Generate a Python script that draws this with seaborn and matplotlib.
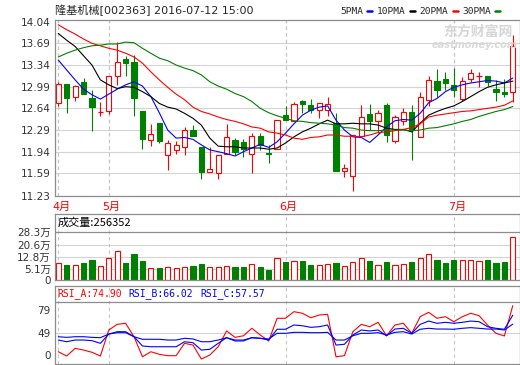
import matplotlib
matplotlib.use("Agg")
import matplotlib.pyplot as plt
import numpy as np
import pandas as pd
import seaborn as sns

TITLE = "隆基机械[002363] 2016-07-12 15:00"
MONTH_LABELS = ["4月", "5月", "6月", "7月"]
MONTH_START = [0, 6, 27, 47]   # index of the first trading day of each month

OPEN = [12.72, 13.03, 12.82, 13.07, 12.80, 12.58, 12.59, 13.16, 13.43, 13.39,
        12.59, 12.13, 12.41, 11.89, 11.96, 12.02, 12.29, 12.01, 11.61, 11.59,
        11.91, 12.13, 12.10, 11.91, 12.19, 11.92, 11.98, 12.53, 12.44, 12.76,
        12.69, 12.62, 12.61, 12.40, 11.63, 11.55, 12.19, 12.55, 12.43, 12.69,
        12.12, 12.44, 12.58, 12.17, 12.78, 13.08, 13.11, 13.01, 12.79, 13.12,
        13.16, 13.16, 12.96, 12.91, 12.90]
HIGH = [13.07, 13.03, 13.02, 13.13, 12.94, 12.75, 13.16, 13.71, 13.49, 13.50,
        12.60, 12.39, 12.41, 12.13, 12.12, 12.34, 12.37, 12.01, 12.01, 11.89,
        12.39, 12.16, 12.14, 12.24, 12.24, 12.05, 12.46, 12.68, 12.75, 12.78,
        12.79, 12.73, 12.82, 12.56, 11.74, 12.21, 12.70, 12.71, 12.61, 12.73,
        12.53, 12.64, 12.69, 12.91, 13.16, 13.27, 13.22, 13.29, 13.15, 13.27,
        13.23, 13.16, 13.10, 13.11, 13.82]
LOW = [12.68, 12.57, 12.76, 12.87, 12.28, 12.51, 12.55, 13.01, 13.17, 12.52,
       11.99, 12.04, 12.08, 11.64, 11.90, 11.89, 12.20, 11.50, 11.61, 11.50,
       11.91, 11.89, 11.86, 11.60, 11.96, 11.76, 11.98, 12.45, 12.44, 12.56,
       12.56, 12.49, 12.51, 11.63, 11.53, 11.31, 12.19, 12.29, 12.24, 12.10,
       12.08, 12.37, 11.80, 12.17, 12.68, 12.83, 12.94, 12.83, 12.76, 13.07,
       12.98, 13.00, 12.76, 12.83, 12.75]
CLOSE = [13.03, 12.81, 13.00, 12.88, 12.67, 12.58, 13.16, 13.39, 13.38, 12.81,
         12.14, 12.22, 12.12, 12.08, 12.05, 12.29, 12.20, 11.62, 11.66, 11.89,
         12.17, 11.93, 11.98, 12.19, 12.05, 11.90, 12.46, 12.46, 12.71, 12.71,
         12.61, 12.72, 12.71, 11.63, 11.67, 12.21, 12.50, 12.43, 12.57, 12.21,
         12.50, 12.58, 12.30, 12.83, 13.10, 12.93, 13.05, 12.94, 13.08, 13.21,
         13.16, 13.07, 12.91, 12.87, 13.64]

MA5 = [13.42, 13.26, 13.10, 12.95, 12.86, 12.79, 12.87, 12.95, 13.02, 13.07,
       13.00, 12.83, 12.57, 12.29, 12.16, 12.17, 12.14, 12.05, 11.97, 11.94,
       11.91, 11.87, 11.94, 12.00, 12.06, 12.01, 12.10, 12.24, 12.39, 12.53,
       12.61, 12.66, 12.68, 12.45, 12.29, 12.18, 12.17, 12.09, 12.21, 12.34,
       12.44, 12.46, 12.45, 12.56, 12.73, 12.80, 12.91, 12.98, 13.02, 13.05,
       13.07, 13.09, 13.08, 13.05, 13.13]
MA10 = [13.85, 13.74, 13.64, 13.49, 13.34, 13.10, 13.02, 12.96, 12.99, 12.98,
        12.91, 12.83, 12.72, 12.66, 12.63, 12.56, 12.48, 12.37, 12.16, 12.03,
        12.02, 12.02, 12.00, 12.00, 12.00, 11.98, 12.00, 12.08, 12.18, 12.26,
        12.32, 12.39, 12.45, 12.39, 12.39, 12.40, 12.39, 12.39, 12.37, 12.32,
        12.30, 12.30, 12.26, 12.40, 12.53, 12.59, 12.64, 12.68, 12.75, 12.83,
        12.91, 12.98, 13.02, 13.05, 13.08]
MA20 = [13.99, 13.91, 13.84, 13.76, 13.69, 13.65, 13.61, 13.58, 13.53, 13.47,
        13.37, 13.23, 13.10, 12.98, 12.87, 12.78, 12.66, 12.59, 12.55, 12.50,
        12.46, 12.43, 12.39, 12.34, 12.32, 12.26, 12.24, 12.21, 12.16, 12.14,
        12.17, 12.18, 12.21, 12.21, 12.19, 12.19, 12.18, 12.21, 12.25, 12.26,
        12.28, 12.30, 12.33, 12.39, 12.50, 12.53, 12.55, 12.57, 12.59, 12.60,
        12.62, 12.64, 12.66, 12.69, 12.76]
MA30 = [13.47, 13.53, 13.58, 13.62, 13.65, 13.66, 13.68, 13.68, 13.71, 13.70,
        13.61, 13.53, 13.45, 13.41, 13.34, 13.29, 13.25, 13.18, 13.07, 13.00,
        12.95, 12.88, 12.83, 12.75, 12.64, 12.57, 12.52, 12.48, 12.44, 12.43,
        12.41, 12.40, 12.39, 12.37, 12.33, 12.32, 12.29, 12.28, 12.28, 12.29,
        12.29, 12.29, 12.28, 12.29, 12.32, 12.33, 12.36, 12.39, 12.43, 12.46,
        12.51, 12.55, 12.59, 12.62, 12.67]

# volume in 万 (10k lots)
VOLUME = [8.9, 7.8, 7.8, 8.9, 10.9, 7.2, 12.0, 16.5, 8.9, 14.5,
          10.3, 5.7, 5.7, 6.7, 5.7, 6.4, 7.2, 8.2, 6.4, 6.4,
          7.4, 6.4, 6.4, 8.6, 6.4, 4.7, 12.0, 9.5, 10.3, 10.3,
          7.8, 7.8, 8.2, 8.9, 7.2, 9.5, 12.0, 10.3, 7.8, 9.7,
          7.8, 8.4, 9.7, 12.0, 14.5, 10.9, 8.9, 10.9, 10.9, 10.9,
          10.3, 10.9, 8.9, 9.7, 25.6]
VOLUME_LAST = "256352"

RSI_A = [31.7, 27.7, 34.9, 33.3, 31.2, 27.7, 52.1, 57.4, 58.4, 45.8,
         27.0, 31.7, 29.3, 28.0, 28.0, 39.6, 38.0, 24.9, 28.6, 36.4,
         51.2, 45.2, 46.7, 53.7, 47.4, 41.8, 63.1, 63.1, 69.3, 67.8,
         63.6, 66.2, 66.8, 27.0, 28.0, 50.5, 57.4, 55.2, 59.3, 46.7,
         56.8, 58.4, 49.0, 64.6, 68.7, 63.1, 64.6, 59.9, 64.6, 67.8,
         65.5, 56.8, 49.0, 46.5, 74.9]
RSI_B = [42.7, 41.1, 42.7, 42.7, 42.1, 39.6, 48.3, 50.5, 50.5, 45.8,
         37.1, 36.4, 36.4, 36.4, 36.4, 41.1, 40.2, 33.3, 34.0, 39.6,
         44.9, 41.8, 41.8, 44.9, 44.3, 42.7, 52.8, 52.8, 56.8, 56.1,
         54.6, 55.2, 56.8, 38.0, 38.7, 47.4, 52.1, 51.2, 52.1, 46.7,
         53.0, 53.7, 49.0, 57.4, 60.5, 58.4, 59.3, 58.4, 59.3, 60.5,
         59.9, 55.2, 53.7, 52.8, 66.0]
RSI_C = [45.8, 45.2, 45.8, 45.8, 45.2, 44.9, 48.3, 49.6, 49.6, 45.8,
         43.4, 43.4, 43.4, 42.7, 42.7, 44.3, 43.7, 41.1, 41.1, 42.7,
         44.9, 42.7, 42.7, 44.9, 44.3, 43.7, 49.0, 49.0, 49.9, 49.9,
         49.6, 49.6, 49.9, 42.7, 42.7, 46.7, 49.0, 49.0, 49.6, 47.4,
         49.9, 50.5, 48.3, 52.8, 53.7, 53.0, 53.0, 52.8, 53.7, 54.3,
         53.7, 53.0, 53.0, 52.1, 57.6]
RSI_HEAD = [("RSI_A:74.90", "#ff0000"), ("RSI_B:66.02", "#0000ff"), ("RSI_C:57.57", "#0000ff")]

PRICE_TICKS = [14.04, 13.69, 13.34, 12.99, 12.64, 12.29, 11.94, 11.59, 11.23]
VOL_TICKS = [5.1, 12.8, 20.6, 28.3]
VOL_TICK_LABELS = ["5.1万", "12.8万", "20.6万", "28.3万"]
RSI_TICKS = [71, 49, 28.6]
RSI_TICK_LABELS = ["79", "49", "0"]
MA_NAMES = ["5PMA", "10PMA", "20PMA", "30PMA"]
MA_COLORS = ["#0000ff", "#000000", "#ff0000", "#008000"]

UP = "#ff0000"
DOWN = "#008000"
FRAME = "#8c8c8c"
GRID = "#d4d4d4"
W, H = 520, 365


def box(l, t, r, b):
    return [l / W, 1 - b / H, (r - l) / W, (b - t) / H]


def ftext(fig, x, y, s, **kw):
    fig.text(x / W, 1 - y / H, s, **kw)


def style_axes(ax):
    for sp in ax.spines.values():
        sp.set_color(FRAME)
        sp.set_linewidth(0.9)
    ax.set_xticks([])
    ax.set_xlim(-0.39, 54.8)
    ax.tick_params(axis="y", length=0, pad=3, labelsize=7.5, labelcolor="#333333")
    for m in MONTH_START:
        ax.axvline(m, color="#c4c4c4", lw=0.8, ls=(0, (3, 3)), zorder=0)
    ax.set_xlabel("")
    ax.set_ylabel("")


def draw_candles(ax, df):
    w = 0.62
    for row in df.itertuples():
        up = row.close >= row.open
        lo, hi = min(row.open, row.close), max(row.open, row.close)
        if up:
            ax.vlines(row.i, hi, row.high, color=UP, lw=0.8, zorder=2)
            ax.vlines(row.i, row.low, lo, color=UP, lw=0.8, zorder=2)
            if hi - lo < 0.005:
                ax.hlines(lo, row.i - w / 2, row.i + w / 2, color=UP, lw=0.9, zorder=2)
            else:
                ax.bar(row.i, hi - lo, bottom=lo, width=w, facecolor="white",
                       edgecolor=UP, linewidth=0.8, zorder=2)
        else:
            ax.vlines(row.i, row.low, row.high, color=DOWN, lw=0.8, zorder=2)
            ax.bar(row.i, hi - lo, bottom=lo, width=w, facecolor=DOWN,
                   edgecolor=DOWN, linewidth=0.8, zorder=2)


def main():
    sns.set_style("white")
    plt.rcParams["font.family"] = ["DejaVu Sans", "Noto Sans CJK SC"]

    df = pd.DataFrame({"i": np.arange(len(CLOSE)), "open": OPEN, "high": HIGH,
                       "low": LOW, "close": CLOSE, "vol": VOLUME,
                       "ma5": MA5, "ma10": MA10, "ma20": MA20, "ma30": MA30,
                       "rsi_a": RSI_A, "rsi_b": RSI_B, "rsi_c": RSI_C})

    fig = plt.figure(figsize=(W / 100, H / 100), dpi=100)
    fig.patch.set_facecolor("white")

    # price panel
    ax = fig.add_axes(box(55, 19.5, 519.5, 196))
    style_axes(ax)
    for t in PRICE_TICKS[1:-1]:
        ax.axhline(t, color=GRID, lw=0.8, zorder=0)
    draw_candles(ax, df)
    for col, c in zip(["ma5", "ma10", "ma20", "ma30"], MA_COLORS):
        sns.lineplot(data=df, x="i", y=col, color=c, lw=0.8, ax=ax, zorder=3)
    ax.set_ylim(11.225, 14.075)
    ax.set_yticks(PRICE_TICKS)
    ax.set_yticklabels([f"{t:.2f}" for t in PRICE_TICKS])
    style_axes(ax)
    for m, lab in zip(MONTH_START, MONTH_LABELS):
        ax.text(m + 0.35, -0.062, lab, transform=ax.get_xaxis_transform(),
                ha="center", va="center", color="#ff0000", fontsize=8,
                family=["DejaVu Sans", "Noto Sans CJK SC"])
    ax.text(0.985, 0.93, "东方财富网", transform=ax.transAxes, ha="right", va="center",
            color="#d6d6d6", fontsize=10, fontweight="bold", family=["Noto Sans CJK SC"])
    ax.text(0.995, 0.855, "eastmoney.com", transform=ax.transAxes, ha="right", va="center",
            color="#dadada", fontsize=7, fontweight="bold", style="italic")

    # volume panel
    axv = fig.add_axes(box(55, 214.3, 519.5, 280))
    up = df["close"] >= df["open"]
    axv.bar(df["i"][up], df["vol"][up] + 1.6, bottom=-1.6, width=0.62, facecolor="white",
            edgecolor=UP, linewidth=0.8, zorder=2)
    axv.bar(df["i"][~up], df["vol"][~up] + 1.6, bottom=-1.6, width=0.62, facecolor=DOWN,
            edgecolor=DOWN, linewidth=0.8, zorder=2)
    for t in VOL_TICKS[:-1]:
        axv.axhline(t, color=GRID, lw=0.8, zorder=0)
    axv.axhline(VOL_TICKS[-1], color=FRAME, lw=0.9, zorder=1)
    axv.set_ylim(-1.6, 39.5)
    axv.set_yticks([-1.6] + VOL_TICKS)
    axv.set_yticklabels(["0"] + VOL_TICK_LABELS)
    style_axes(axv)
    axv.text(0.005, 0.88, "成交量:" + VOLUME_LAST, transform=axv.transAxes, ha="left",
             va="center", fontsize=8, color="black", family=["Noto Sans CJK SC", "DejaVu Sans"])

    # RSI panel
    axr = fig.add_axes(box(55, 286, 519.5, 364))
    axr.axhline(49, color=GRID, lw=0.8, zorder=0)
    axr.axhline(78.6, color=FRAME, lw=0.9, zorder=1)
    for col, c in zip(["rsi_a", "rsi_b", "rsi_c"], ["#ff0000", "#0000ff", "#0000ff"]):
        sns.lineplot(data=df, x="i", y=col, color=c, lw=0.8, ax=axr, zorder=3)
    axr.set_ylim(20.2, 93.4)
    axr.set_yticks(RSI_TICKS)
    axr.set_yticklabels(RSI_TICK_LABELS)
    style_axes(axr)
    x0 = 57
    for s, c in RSI_HEAD:
        ftext(fig, x0, 294, s, color=c, fontsize=7, family="DejaVu Sans Mono",
              ha="left", va="center")
        x0 += 71.5

    # title and legend
    ftext(fig, 55, 10.5, TITLE, fontsize=8, ha="left", va="center",
          family=["DejaVu Sans", "Noto Sans CJK SC"])
    lx = 340
    for name, c in zip(MA_NAMES, MA_COLORS):
        ftext(fig, lx, 11, name, fontsize=6.8, family="DejaVu Sans Mono",
              ha="left", va="center")
        tw = len(name) * 5.75
        fig.add_artist(plt.Line2D([(lx + tw + 4) / W, (lx + tw + 9) / W],
                                  [1 - 11 / H, 1 - 11 / H], color=c, lw=1.8))
        lx += tw + 14

    fig.savefig("out.png", dpi=100, facecolor="white")


if __name__ == "__main__":
    main()
